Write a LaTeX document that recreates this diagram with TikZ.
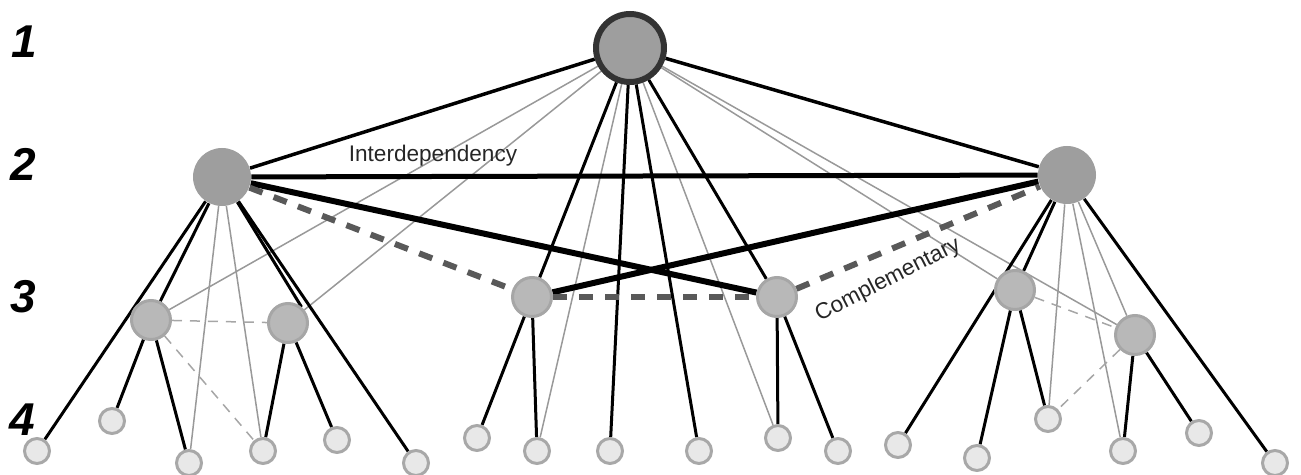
\documentclass[tikz,border=0pt]{standalone}
\usepackage{fontspec}
\setmainfont{Liberation Sans}
\usepackage{tikz}
\usetikzlibrary{backgrounds}

\begin{document}
\begin{tikzpicture}[x=0.5pt,y=-0.5pt,
  top/.style={circle,draw=black!80,line width=3pt,fill=black!38,minimum size=34pt,inner sep=0pt},
  mid/.style={circle,fill=black!38,minimum size=29pt,inner sep=0pt},
  sub/.style={circle,draw=black!35,line width=1.5pt,fill=black!28,minimum size=19.5pt,inner sep=0pt},
  leaf/.style={circle,draw=black!34,line width=1.5pt,fill=black!9,minimum size=12.5pt,inner sep=0pt},
  lvl/.style={font=\fontsize{23}{23}\selectfont\bfseries\itshape},
  txt/.style={font=\fontsize{11.3}{12}\selectfont,text=black!85,inner sep=0pt},
  tie/.style={line width=1.5pt},
  link/.style={line width=0.75pt,black!40},
  comp/.style={line width=3pt,black!65,dash pattern=on 7pt off 6pt},
  weak/.style={line width=0.75pt,black!35,dash pattern=on 5pt off 4pt}]
 \useasboundingbox (0,0) rectangle (1301,475);

 \node[lvl] (n1) at (24,42) {1};
 \node[lvl] (n2) at (23,164) {2};
 \node[lvl] (n3) at (23,297) {3};
 \node[lvl] (n4) at (22,420) {4};

 \node[top] (T) at (630,48) {};
 \node[mid] (L) at (222,177) {};
 \node[mid] (R) at (1067,175) {};

 \node[sub] (A) at (151,320) {};
 \node[sub] (B) at (288,323) {};
 \node[sub] (C) at (532,297) {};
 \node[sub] (D) at (777,297) {};
 \node[sub] (E) at (1015,290) {};
 \node[sub] (F) at (1135,335) {};

 \foreach \n/\x/\y in {1/37/451, 2/112/421, 3/189/463, 4/263/451, 5/337/440, 6/416/463,
   7/477/438, 8/537/451, 9/610/451, 10/699/451, 11/778/438, 12/838/451,
   13/898/445, 14/977/458, 15/1048/419, 16/1123/451, 17/1199/433, 18/1275/463}
   \node[leaf] (l\n) at (\x,\y) {};

 \node[txt] (inter) at (433,156) {Interdependency};
 \node[txt,rotate=27] (compl) at (888,280) {Complementary};

 \begin{scope}[on background layer]
  \draw[tie,line width=1.75pt] (T) -- (L);
  \draw[tie,line width=1.75pt] (T) -- (R);
  \foreach \m in {C,D,l9,l10} \draw[tie] (T) -- (\m);
  \foreach \m in {A,B,l8,l11,E,F} \draw[link] (T) -- (\m);

  \draw[line width=2.5pt] (L) -- (R);
  \draw[line width=3pt] (L) -- (D);
  \draw[line width=3pt] (R) -- (C);
  \draw[comp] (L) -- (C);
  \draw[comp] (C) -- (D);
  \draw[comp] (D) -- (R);

  \foreach \m in {l1,A,B.50,l6} \draw[tie] (L) -- (\m);
  \foreach \m in {l3,l4} \draw[link] (L) -- (\m);
  \foreach \m in {l13,E,l18} \draw[tie] (R) -- (\m);
  \foreach \m in {l15,l16,F} \draw[link] (R) -- (\m);

  \foreach \p/\q in {A/l2,A/l3,B/l4,B/l5,C/l7,C/l8,D/l11,D/l12,E/l14,E/l15,F/l16,F/l17}
    \draw[tie] (\p) -- (\q);
  \draw[weak] (A) -- (B);
  \draw[weak] (A) -- (l4);
  \draw[weak] (E) -- (F);
  \draw[weak] (F) -- (l15);
 \end{scope}
\end{tikzpicture}
\end{document}
